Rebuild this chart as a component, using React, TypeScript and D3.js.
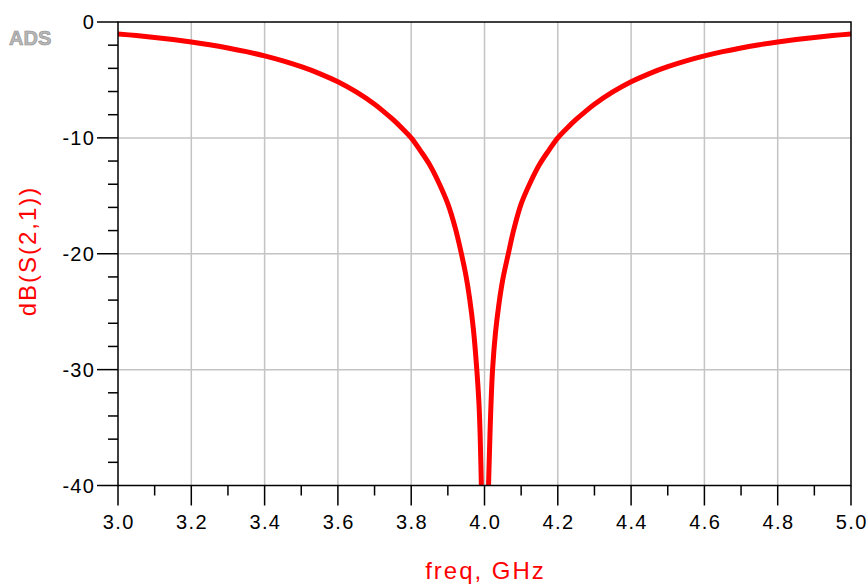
import * as d3 from "d3";

// frequency sweep (GHz) and dB(S(2,1))
const freqGHz = [
  3.0, 3.05, 3.1, 3.15, 3.2, 3.25, 3.3, 3.35, 3.4, 3.45, 3.5, 3.55, 3.6, 3.65,
  3.7, 3.725, 3.75, 3.775, 3.8, 3.825, 3.85, 3.875, 3.9, 3.92, 3.937, 3.95,
  3.96, 3.97, 3.979, 3.985, 3.988, 3.9905, 3.9925, 4.0, 4.0085, 4.011, 4.014,
  4.017, 4.022, 4.03, 4.04, 4.05, 4.065, 4.08, 4.1, 4.125, 4.15, 4.175, 4.2,
  4.225, 4.25, 4.275, 4.3, 4.35, 4.4, 4.45, 4.5, 4.55, 4.6, 4.65, 4.7, 4.75,
  4.8, 4.85, 4.9, 4.95, 5.0,
];
const s21dB = [
  -1.03, -1.17, -1.33, -1.51, -1.72, -1.96, -2.24, -2.56, -2.93, -3.36, -3.86,
  -4.45, -5.16, -6.04, -7.1, -7.73, -8.41, -9.17, -10.0, -11.1, -12.3, -13.85,
  -15.7, -17.75, -20.0, -22.0, -24.0, -26.6, -30.0, -33.0, -35.5, -38.6, -42.0,
  -60.0, -42.5, -40.0, -36.6, -33.6, -30.0, -26.8, -24.2, -22.2, -20.0, -17.9,
  -15.7, -13.85, -12.3, -11.1, -10.0, -9.17, -8.41, -7.73, -7.1, -6.04, -5.16,
  -4.45, -3.86, -3.36, -2.93, -2.56, -2.24, -1.96, -1.72, -1.51, -1.33, -1.17,
  -1.03,
];

const xMajor = [3.0, 3.2, 3.4, 3.6, 3.8, 4.0, 4.2, 4.4, 4.6, 4.8, 5.0];
const xMinor = [3.1, 3.3, 3.5, 3.7, 3.9, 4.1, 4.3, 4.5, 4.7, 4.9];
const yMajor = [0, -10, -20, -30, -40];
const yMinor = [-2, -4, -6, -8, -12, -14, -16, -18, -22, -24, -26, -28, -32, -34, -36, -38];

const W = 868;
const H = 585;
const left = 118;
const right = 851;
const top = 22;
const bottom = 485.5;

const font = "'Liberation Sans', Arial, Helvetica, sans-serif";

export default function App() {
  const x = d3.scaleLinear().domain([3, 5]).range([left, right]);
  const y = d3.scaleLinear().domain([0, -40]).range([top, bottom]);

  const pts = freqGHz.map((f, i) => [f, s21dB[i]] as [number, number]);
  const line = d3
    .line<[number, number]>()
    .x((d) => x(d[0]))
    .y((d) => y(d[1]))
    .curve(d3.curveCatmullRom.alpha(0.5));

  return (
    <svg
      width={W}
      height={H}
      style={{ position: "absolute", left: 0, top: 0, background: "#fff" }}
    >
      <defs>
        <clipPath id="plot">
          <rect x={left} y={top} width={right - left} height={bottom - top} />
        </clipPath>
      </defs>

      {/* ADS badge */}
      <text
        x={9}
        y={45}
        fontFamily={font}
        fontWeight="bold"
        fontSize={20}
        fill="#b8b8b8"
        stroke="#8c8c8c"
        strokeWidth={0.6}
      >
        ADS
      </text>

      {/* grid */}
      {xMajor.slice(1, -1).map((v) => (
        <line key={"gx" + v} x1={x(v)} x2={x(v)} y1={top} y2={bottom} stroke="#c4c4c4" strokeWidth={1.5} />
      ))}
      {yMajor.slice(1, -1).map((v) => (
        <line key={"gy" + v} x1={left} x2={right} y1={y(v)} y2={y(v)} stroke="#c4c4c4" strokeWidth={1.5} />
      ))}

      {/* curve */}
      <path
        d={line(pts) ?? ""}
        fill="none"
        stroke="#ff0000"
        strokeWidth={5}
        strokeLinejoin="round"
        clipPath="url(#plot)"
      />

      {/* frame */}
      <rect x={left} y={top} width={right - left} height={bottom - top} fill="none" stroke="#000" strokeWidth={1.5} />

      {/* y ticks */}
      {yMajor.map((v) => (
        <g key={"yt" + v}>
          <line x1={left - 21} x2={left} y1={y(v)} y2={y(v)} stroke="#000" strokeWidth={1.5} />
          <text
            x={95}
            y={y(v)}
            dy="0.36em"
            textAnchor="end"
            fontFamily={font}
            fontSize={20}
            letterSpacing={1.2}
            fill="#000"
          >
            {String(v)}
          </text>
        </g>
      ))}
      {yMinor.map((v) => (
        <line key={"ym" + v} x1={left - 10} x2={left} y1={y(v)} y2={y(v)} stroke="#000" strokeWidth={1.5} />
      ))}

      {/* x ticks */}
      {xMajor.map((v) => (
        <g key={"xt" + v}>
          <line x1={x(v)} x2={x(v)} y1={bottom} y2={bottom + 20} stroke="#000" strokeWidth={1.5} />
          <text
            x={x(v) + 0.8}
            y={528.5}
            textAnchor="middle"
            fontFamily={font}
            fontSize={20}
            letterSpacing={1.4}
            fill="#000"
          >
            {d3.format(".1f")(v)}
          </text>
        </g>
      ))}
      {xMinor.map((v) => (
        <line key={"xm" + v} x1={x(v)} x2={x(v)} y1={bottom} y2={bottom + 10} stroke="#000" strokeWidth={1.5} />
      ))}

      {/* axis titles */}
      <text
        x={(left + right) / 2 + 1}
        y={579}
        textAnchor="middle"
        fontFamily={font}
        fontSize={24}
        letterSpacing={2}
        fill="#ff0000"
      >
        freq, GHz
      </text>
      <text
        transform={`translate(36, 251) rotate(-90)`}
        textAnchor="middle"
        fontFamily={font}
        fontSize={24}
        letterSpacing={2}
        fill="#ff0000"
      >
        dB(S(2,1))
      </text>
    </svg>
  );
}
